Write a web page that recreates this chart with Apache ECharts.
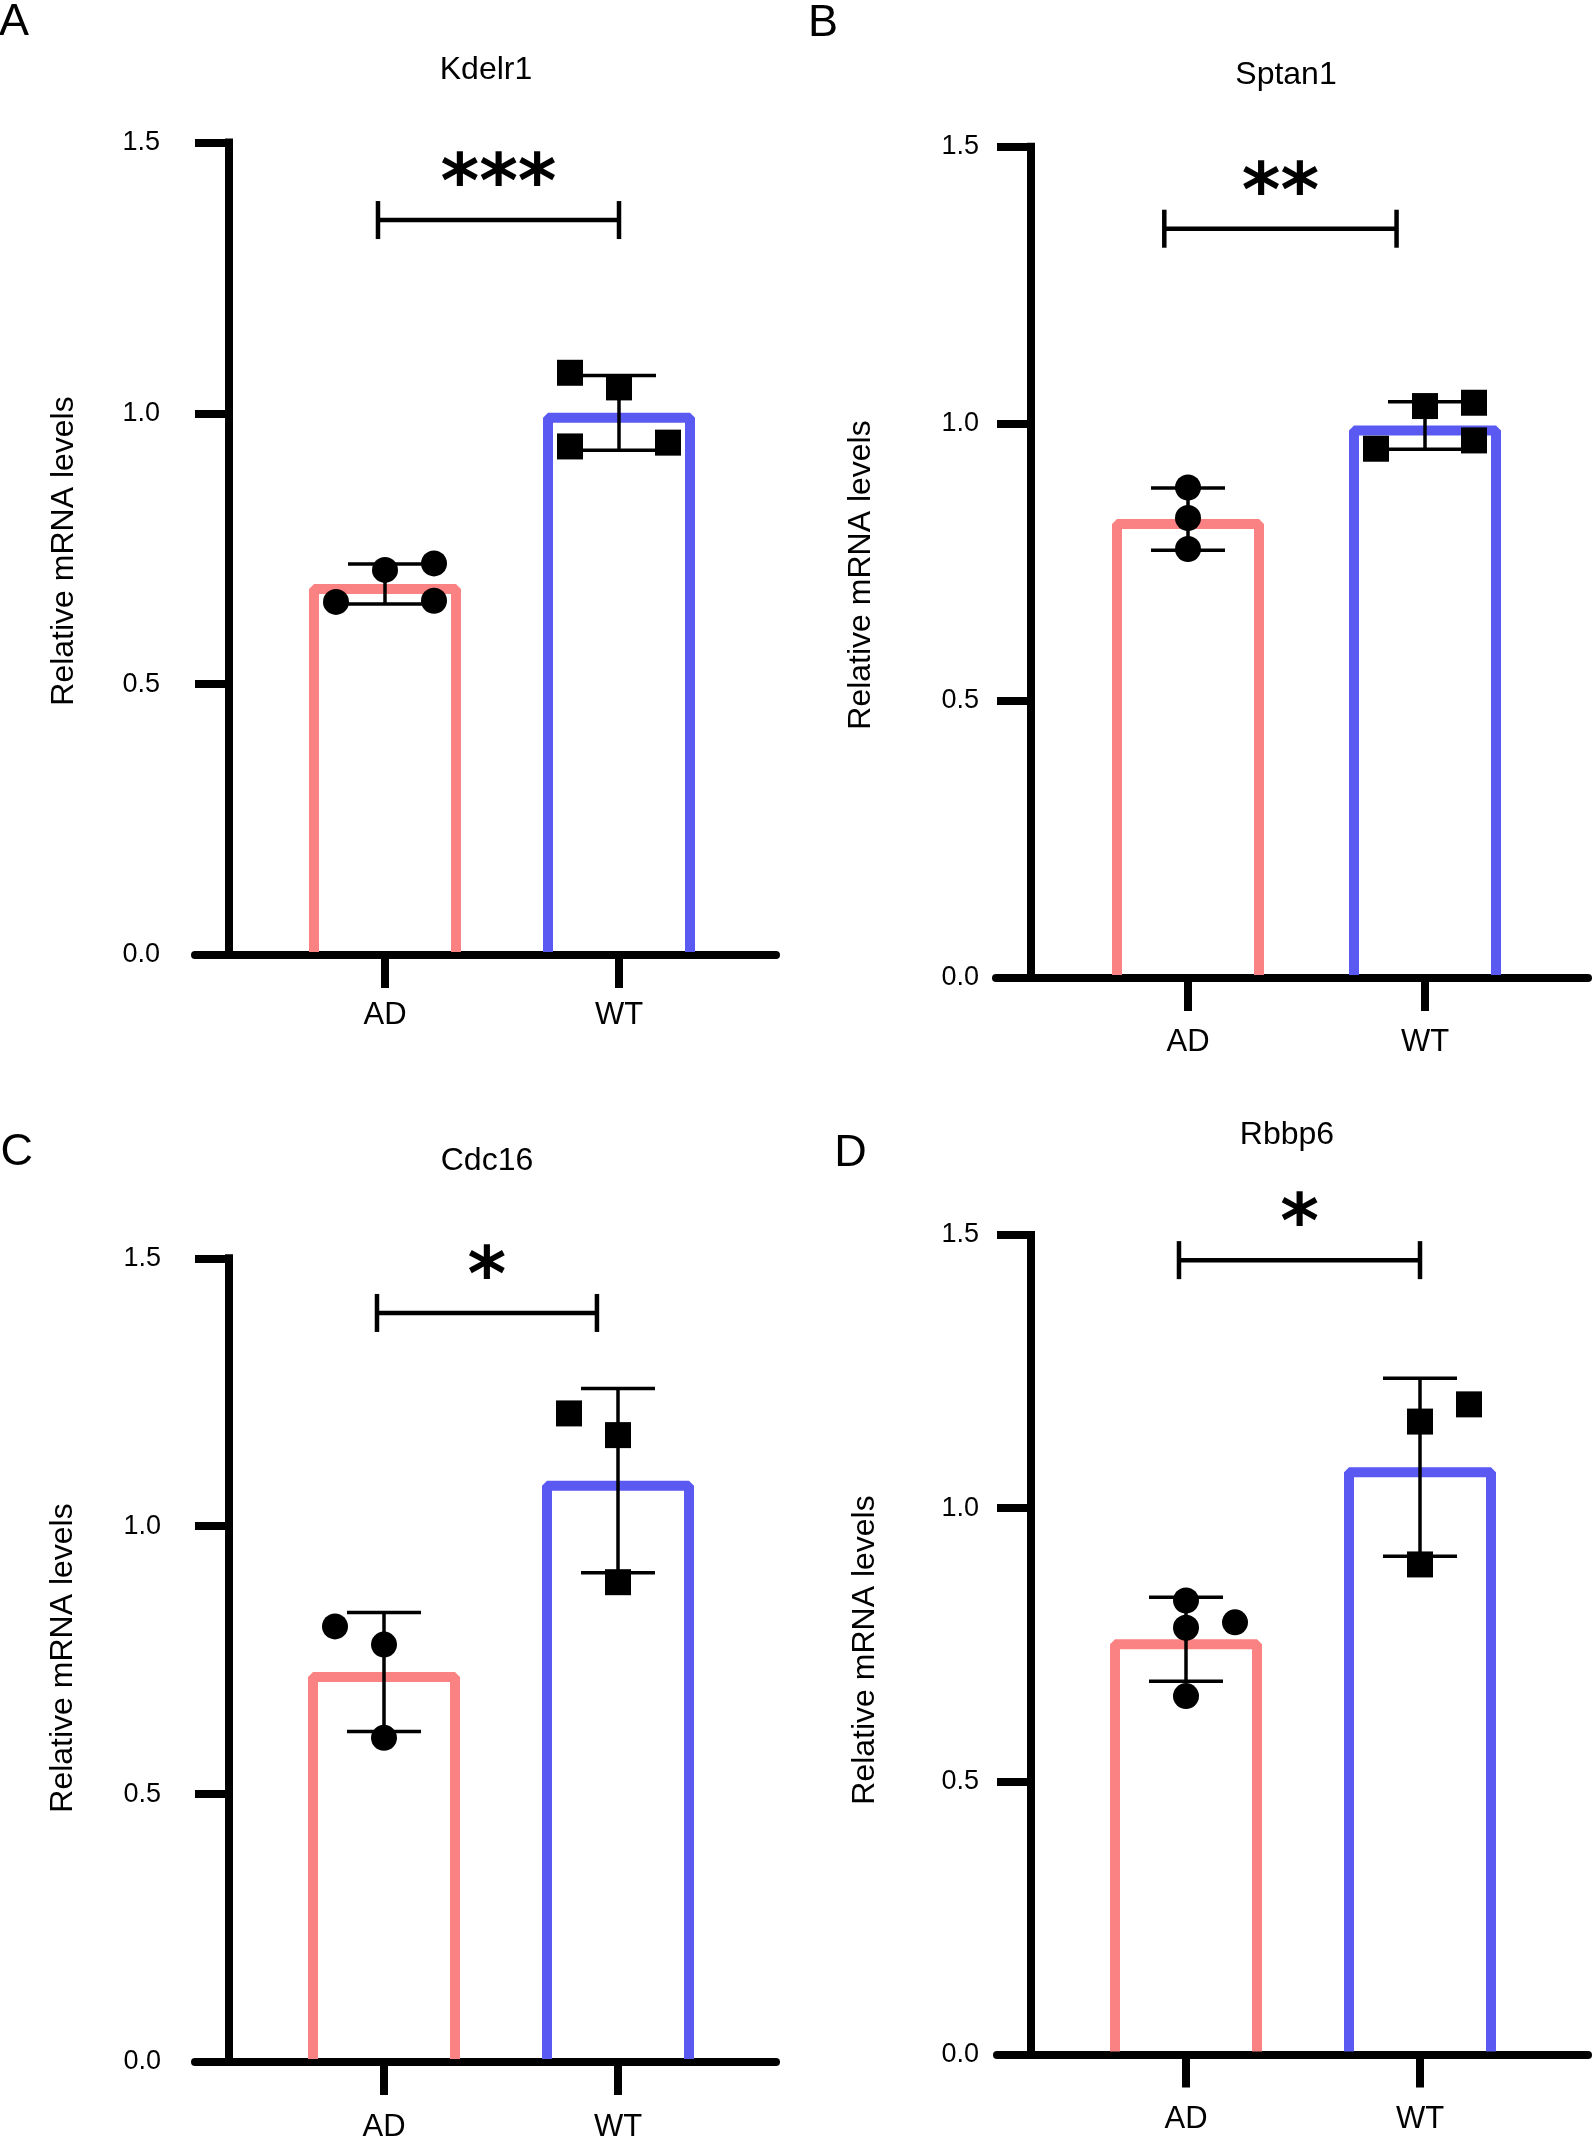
<!DOCTYPE html>
<html>
<head>
<meta charset="utf-8">
<script src="https://cdn.jsdelivr.net/npm/echarts@6/dist/echarts.min.js"></script>
<style>
  html, body { margin: 0; padding: 0; background: #fff; }
  #chart { width: 1594px; height: 2147px; }
</style>
</head>
<body>
<div id="chart"></div>
<script>
// ---- data ----
var genes = ['Kdelr1', 'Sptan1', 'Cdc16', 'Rbbp6'];
var panelLetters = ['A', 'B', 'C', 'D'];
var groups = ['AD', 'WT'];
var yTicks = [0, 0.5, 1.0, 1.5];
var yName = 'Relative mRNA levels';

// individual samples per gene
var adValues = [[0.652, 0.711, 0.723, 0.654], [0.885, 0.830, 0.774], [0.813, 0.779, 0.605], [0.831, 0.781, 0.791, 0.656]];
var wtValues = [[1.075, 1.048, 0.939, 0.946], [1.032, 1.038, 0.955, 0.970], [1.2105, 1.170, 0.8955], [1.1585, 1.190, 0.897]];
// dot spread: -1 left, 0 centre, 1 right
var adSlots = [[-1, 0, 1, 1], [0, 0, 0], [-1, 0, 0], [0, 0, 1, 0]];
var wtSlots = [[-1, 0, -1, 1], [0, 1, -1, 1], [-1, 0, 0], [0, 1, 0]];
// bar = mean, error bar = SD
var adMean = [0.685, 0.828, 0.728, 0.760];
var wtMean = [1.001, 0.997, 1.085, 1.075];
var adSD = [0.037, 0.056, 0.111, 0.077];
var wtSD = [0.069, 0.043, 0.172, 0.163];
// significance brackets
var sigStars = ['***', '**', '*', '*'];
var sigLevel = [1.357, 1.352, 1.398, 1.454];
var sigFrom = [-0.03, -0.10, -0.03, -0.03];
var sigTo = [1.0, 0.88, 0.91, 1.0];

// ---- layout / style ----
var FONT = '"Liberation Sans", Arial, Helvetica, sans-serif';
var STAR_FONT = '"DejaVu Sans", sans-serif';
var barColors = ['#FA8282', '#5A5AF3'];
var layout = [
  { left: 195, right: 776, top: 142.6, bottom: 955, ad: 385, wt: 619, axisX: 229, yMargin: 69, xMargin: 45, title: [486, 70], letter: [14, 22.5], name: [64, 551] },
  { left: 996, right: 1588, top: 146.7, bottom: 978, ad: 1188, wt: 1425, axisX: 1031, yMargin: 52, xMargin: 49, title: [1286, 75], letter: [823, 24], name: [861, 575] },
  { left: 195, right: 776, top: 1258.3, bottom: 2062, ad: 384, wt: 618, axisX: 229, yMargin: 68, xMargin: 50, title: [487, 1161], letter: [16.7, 1153], name: [63, 1658] },
  { left: 997, right: 1588, top: 1235, bottom: 2054.5, ad: 1186, wt: 1420, axisX: 1031, yMargin: 52, xMargin: 49, title: [1287, 1135], letter: [850.5, 1153.5], name: [865, 1650] }
];
var BAR_OUTER = 152, BAR_LW = 10, CAP_HALF = 37, ERR_LW = 3.5, DOT = 26, SPREAD_PX = 49;

function renderBar(params, api) {
  var x = api.value(0), m = api.value(1);
  var top = api.coord([x, m]);
  var base = api.coord([x, 0]);
  var half = (BAR_OUTER - BAR_LW) / 2;
  var yTop = top[1] + BAR_LW / 2, yBot = base[1] - 3;
  return {
    type: 'polyline',
    shape: { points: [[top[0] - half, yBot], [top[0] - half, yTop], [top[0] + half, yTop], [top[0] + half, yBot]] },
    style: { stroke: barColors[params.dataIndex], lineWidth: BAR_LW, fill: null, lineJoin: 'bevel' }
  };
}

function renderErr(params, api) {
  var x = api.value(0), m = api.value(1), sd = api.value(2);
  var hi = api.coord([x, m + sd]);
  var lo = api.coord([x, m - sd]);
  var st = { stroke: '#000', lineWidth: ERR_LW };
  return {
    type: 'group',
    children: [
      { type: 'line', shape: { x1: hi[0], y1: hi[1], x2: lo[0], y2: lo[1] }, style: st },
      { type: 'line', shape: { x1: hi[0] - CAP_HALF, y1: hi[1], x2: hi[0] + CAP_HALF, y2: hi[1] }, style: st },
      { type: 'line', shape: { x1: lo[0] - CAP_HALF, y1: lo[1], x2: lo[0] + CAP_HALF, y2: lo[1] }, style: st }
    ]
  };
}

function makeSigRenderer(stars) {
  return function (params, api) {
    var p1 = api.coord([api.value(0), api.value(2)]);
    var p2 = api.coord([api.value(1), api.value(2)]);
    var st = { stroke: '#000', lineWidth: 4.5 };
    var fs = 74;
    return {
      type: 'group',
      children: [
        { type: 'line', shape: { x1: p1[0], y1: p1[1], x2: p2[0], y2: p2[1] }, style: st },
        { type: 'line', shape: { x1: p1[0], y1: p1[1] - 19, x2: p1[0], y2: p1[1] + 19 }, style: st },
        { type: 'line', shape: { x1: p2[0], y1: p2[1] - 19, x2: p2[0], y2: p2[1] + 19 }, style: st },
        {
          type: 'text', x: (p1[0] + p2[0]) / 2, y: p1[1] - 47 + 0.2 * fs,
          style: { text: stars, fontSize: fs, fontWeight: 'bold', fontFamily: STAR_FONT, fill: '#000', align: 'center', verticalAlign: 'middle' }
        }
      ]
    };
  };
}

var grids = [], xAxes = [], yAxes = [], series = [], graphics = [];

layout.forEach(function (L, i) {
  var unit = L.wt - L.ad;
  grids.push({ left: L.left, top: L.top, width: L.right - L.left, height: L.bottom - L.top });

  xAxes.push({
    gridIndex: i, type: 'value',
    min: (L.left - L.ad) / unit, max: (L.right - L.ad) / unit,
    axisLine: { onZero: false, lineStyle: { color: '#000', width: 8 } },
    axisTick: { customValues: [0, 1], length: 33, lineStyle: { color: '#000', width: 8 } },
    axisLabel: {
      customValues: [0, 1], margin: L.xMargin, fontSize: 31, lineHeight: 31, color: '#000', fontFamily: FONT,
      formatter: function (v) { return groups[Math.round(v)]; }
    },
    splitLine: { show: false }
  });

  yAxes.push({
    gridIndex: i, type: 'value', min: yTicks[0], max: yTicks[yTicks.length - 1], interval: yTicks[1] - yTicks[0],
    offset: -(L.axisX - L.left),
    axisLine: { show: true, onZero: false, lineStyle: { color: '#000', width: 8, cap: 'square' } },
    axisTick: { show: true, length: 34, lineStyle: { color: '#000', width: 8 } },
    axisLabel: {
      margin: L.yMargin, fontSize: 27, color: '#000', fontFamily: FONT,
      formatter: function (v) { return v.toFixed(1); }
    },
    splitLine: { show: false }
  });

  series.push({
    type: 'custom', xAxisIndex: i, yAxisIndex: i, z: 2,
    renderItem: renderBar,
    data: [[0, adMean[i]], [1, wtMean[i]]]
  });
  series.push({
    type: 'custom', xAxisIndex: i, yAxisIndex: i, z: 3,
    renderItem: renderErr,
    data: [[0, adMean[i], adSD[i]], [1, wtMean[i], wtSD[i]]]
  });
  series.push({
    type: 'scatter', xAxisIndex: i, yAxisIndex: i, z: 4,
    symbol: 'circle', symbolSize: DOT, itemStyle: { color: '#000', opacity: 1 },
    data: adValues[i].map(function (v, k) { return [adSlots[i][k] * SPREAD_PX / unit, v]; })
  });
  series.push({
    type: 'scatter', xAxisIndex: i, yAxisIndex: i, z: 4,
    symbol: 'rect', symbolSize: DOT, itemStyle: { color: '#000', opacity: 1 },
    data: wtValues[i].map(function (v, k) { return [1 + wtSlots[i][k] * SPREAD_PX / unit, v]; })
  });
  series.push({
    type: 'custom', xAxisIndex: i, yAxisIndex: i, z: 5, clip: false,
    renderItem: makeSigRenderer(sigStars[i]),
    data: [[sigFrom[i], sigTo[i], sigLevel[i]]]
  });

  graphics.push({
    type: 'text', x: L.title[0], y: L.title[1],
    style: { text: genes[i], fontSize: 32, fontFamily: FONT, fill: '#000', align: 'center', verticalAlign: 'middle' }
  });
  graphics.push({
    type: 'text', x: L.letter[0], y: L.letter[1],
    style: { text: panelLetters[i], fontSize: 45, fontFamily: FONT, fill: '#000', align: 'center', verticalAlign: 'middle' }
  });
  graphics.push({
    type: 'text', x: L.name[0], y: L.name[1], rotation: Math.PI / 2,
    style: { text: yName, fontSize: 32, fontFamily: FONT, fill: '#000', align: 'center', verticalAlign: 'middle' }
  });
});

var chart = echarts.init(document.getElementById('chart'));
chart.setOption({
  backgroundColor: '#fff',
  animation: false,
  grid: grids,
  xAxis: xAxes,
  yAxis: yAxes,
  series: series,
  graphic: graphics
});
</script>
</body>
</html>
